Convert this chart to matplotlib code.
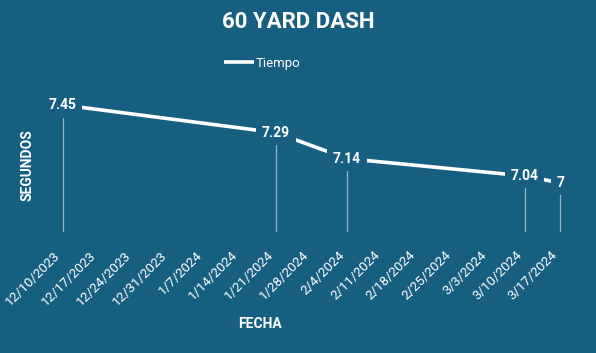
import matplotlib
matplotlib.use("Agg")
import matplotlib.pyplot as plt
import matplotlib.dates as mdates
import pandas as pd

BG = "#175f80"

fechas = pd.to_datetime(["2023-12-10", "2024-01-21", "2024-02-04", "2024-03-10", "2024-03-17"])
tiempos = [7.45, 7.29, 7.14, 7.04, 7.0]
etiquetas = ["7.45", "7.29", "7.14", "7.04", "7"]
ticks = pd.date_range("2023-12-10", "2024-03-17", freq="7D")

plt.rcParams["font.family"] = ["Roboto", "DejaVu Sans"]

fig = plt.figure(figsize=(5.96, 3.53), dpi=100, facecolor=BG)
ax = fig.add_axes([40 / 596, 121 / 353, 540 / 596, 144 / 353])
ax.set_facecolor(BG)

ax.vlines(fechas, 6.716, tiempos, color="white", alpha=0.55, linewidth=0.9)
ax.plot(fechas, tiempos, color="white", linewidth=2.6, label="Tiempo", solid_capstyle="butt")
for x, y, s in zip(fechas, tiempos, etiquetas):
    ax.text(x, y, s, color="white", fontsize=10, fontweight="bold", ha="center", va="center",
            bbox=dict(boxstyle="square,pad=0.4", facecolor=BG, edgecolor="none"))

ax.set_ylim(6.716, 7.548)
ax.set_xlim(pd.Timestamp("2023-12-10") - pd.Timedelta(days=4.5), pd.Timestamp("2023-12-10") + pd.Timedelta(days=101.9))
ax.set_yticks([])
ax.set_xticks(ticks)
ax.xaxis.set_major_formatter(mdates.DateFormatter("%-m/%-d/%Y"))
ax.tick_params(axis="x", length=0, pad=12, colors="white", labelsize=9.6)
for lab in ax.get_xticklabels():
    lab.set_rotation(45)
    lab.set_ha("right")
for sp in ax.spines.values():
    sp.set_visible(False)

fig.text(0.5, 1 - 22 / 353, "60 YARD DASH", color="white", fontsize=16, fontweight="bold",
         ha="center", va="center")
fig.text(260 / 596, 1 - 324 / 353, "FECHA", color="white", fontsize=10, fontweight="bold",
         ha="center", va="center")
fig.text(27 / 596, 1 - 165 / 353, "SEGUNDOS", color="white", fontsize=10, fontweight="bold",
         ha="center", va="center", rotation=90)

leg = fig.legend(loc="center", bbox_to_anchor=(262 / 596, 1 - 63 / 353), frameon=False,
                 handlelength=2.3, handletextpad=0.1, fontsize=9.5, labelcolor="white")

fig.savefig("out.png", dpi=100, facecolor=BG)
